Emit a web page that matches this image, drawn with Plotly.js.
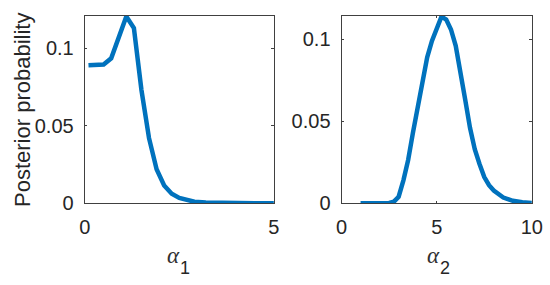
<!DOCTYPE html>
<html>
<head>
<meta charset="utf-8">
<script src="https://cdn.plot.ly/plotly-3.0.1.min.js"></script>
<style>html,body{margin:0;padding:0;background:#fff;}#chart{width:550px;height:285px;}</style>
</head>
<body>
<div id="chart"></div>
<script>
// Posterior of alpha_1
var alpha1 = [0.1, 0.3, 0.5, 0.7, 1.1, 1.3, 1.5, 1.7, 1.9, 2.1, 2.3, 2.5, 2.7, 2.9, 3.2, 3.6, 4.0, 4.5, 5.0];
var post1  = [0.089, 0.089, 0.0895, 0.0935, 0.1205, 0.113, 0.073, 0.042, 0.022, 0.0115, 0.0062, 0.0035, 0.002, 0.001, 0.0005, 0.0002, 0.0001, 0.00005, 0.00002];
// Posterior of alpha_2
var alpha2 = [1, 1.5, 2, 2.5, 2.75, 3, 3.25, 3.5, 3.75, 4, 4.25, 4.5, 4.75, 5, 5.25, 5.5, 5.75, 6, 6.25, 6.5, 6.75, 7, 7.25, 7.5, 7.75, 8, 8.5, 9, 9.5, 10];
var post2  = [0, 0, 0, 0.0002, 0.001, 0.004, 0.014, 0.0264, 0.043, 0.059, 0.076, 0.089, 0.099, 0.107, 0.1138, 0.112, 0.106, 0.096, 0.081, 0.063, 0.046, 0.033, 0.024, 0.016, 0.011, 0.0078, 0.0035, 0.0015, 0.0006, 0.0002];

var xTicks1 = [0, 5];
var xTicks2 = [0, 5, 10];
var yTicks = [0, 0.05, 0.1];
var yTickText = ['0', '0.05', '0.1'];
var yTitle = 'Posterior probability';
var xSymbol = 'α';
var xSub1 = '1';
var xSub2 = '2';

var lineColor = '#0072BD';
var axColor = '#404040';
var font = {family: 'Liberation Sans, Arial, sans-serif', size: 20, color: '#262626'};
var symFont = {family: 'Liberation Serif, serif', size: 23, color: '#303030'};
var subFont = {family: 'Liberation Sans, Arial, sans-serif', size: 18, color: '#262626'};

var traces = [
  {x: alpha1, y: post1, type: 'scatter', mode: 'lines', line: {color: lineColor, width: 4.5}, xaxis: 'x', yaxis: 'y', hoverinfo: 'none'},
  {x: alpha2, y: post2, type: 'scatter', mode: 'lines', line: {color: lineColor, width: 4.5}, xaxis: 'x2', yaxis: 'y2', hoverinfo: 'none'}
];

function xax(domain, range, ticks, anchor) {
  return {domain: domain, range: range, tickvals: ticks, ticktext: ticks.map(String), anchor: anchor,
    showline: true, linecolor: axColor, linewidth: 1, mirror: 'allticks', ticks: 'inside', ticklen: 2.5, tickcolor: axColor,
    showgrid: false, zeroline: false, tickfont: font, fixedrange: true, ticklabelstandoff: 6};
}
function yax(domain, range, anchor) {
  return {domain: domain, range: range, tickvals: yTicks, ticktext: yTickText, anchor: anchor,
    showline: true, linecolor: axColor, linewidth: 1, mirror: 'allticks', ticks: 'inside', ticklen: 2.5, tickcolor: axColor,
    showgrid: false, zeroline: false, tickfont: font, fixedrange: true, ticklabelstandoff: 6};
}

function ann(text, px, py, f) {
  return {text: text, xref: 'paper', yref: 'paper', x: px / 550, y: 1 - py / 285, showarrow: false,
    font: f, xanchor: 'center', yanchor: 'middle'};
}

var layout = {
  width: 550, height: 285,
  margin: {l: 0, r: 0, t: 0, b: 0},
  paper_bgcolor: '#ffffff', plot_bgcolor: '#ffffff',
  showlegend: false,
  font: font,
  xaxis: xax([0.154, 0.498], [0, 5], xTicks1, 'y'),
  yaxis: yax([0.2867, 0.9439], [0, 0.1208], 'x'),
  xaxis2: xax([0.621, 0.967], [0, 10], xTicks2, 'y2'),
  yaxis2: yax([0.2867, 0.9439], [0, 0.1142], 'x2'),
  annotations: [
    {text: yTitle, xref: 'paper', yref: 'paper', x: 22 / 550, y: 1 - 110 / 285, textangle: -90, showarrow: false,
     font: {family: 'Liberation Sans, Arial, sans-serif', size: 22, color: '#262626'}, xanchor: 'center', yanchor: 'middle'},
    ann('<i>' + xSymbol + '</i>', 173.5, 255, symFont),
    ann(xSub1, 185, 268, subFont),
    ann('<i>' + xSymbol + '</i>', 433.5, 255, symFont),
    ann(xSub2, 445, 268, subFont)
  ]
};

Plotly.newPlot('chart', traces, layout, {staticPlot: true, displayModeBar: false});
</script>
</body>
</html>
